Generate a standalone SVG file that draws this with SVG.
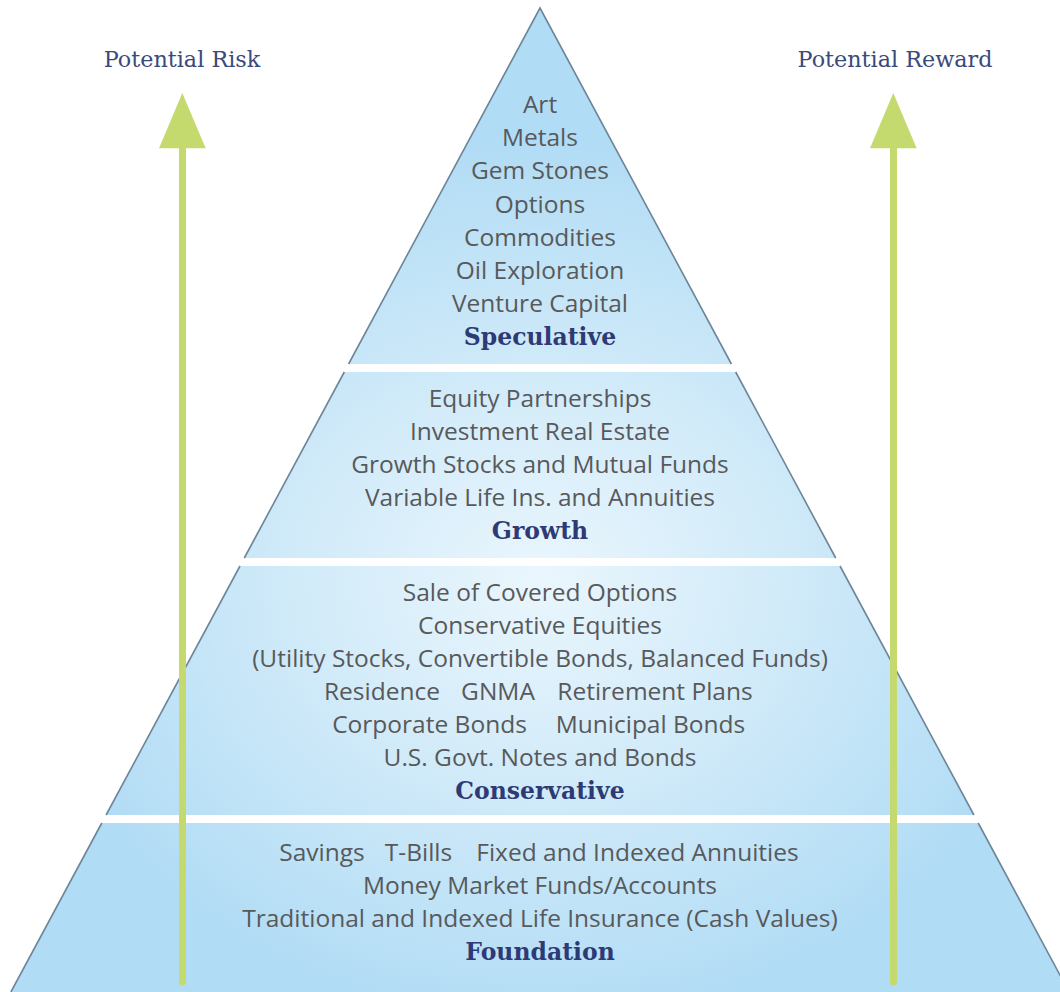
<svg xmlns="http://www.w3.org/2000/svg" width="1060" height="992" viewBox="0 0 1060 992">
<style>
.item{font-family:"Open Sans","Noto Sans",sans-serif;font-size:24.5px;fill:#58595b;text-anchor:middle}
.head{font-family:"DejaVu Serif","Liberation Serif",serif;font-size:23.5px;font-weight:bold;fill:#2e3a75;text-anchor:middle}
.label{font-family:"DejaVu Serif","Liberation Serif",serif;font-size:22.3px;fill:#3a4a7c;text-anchor:middle}
.band{stroke:none}
.edge{stroke:#6d8598;stroke-width:1.6;fill:none}
.shaft{stroke:#c5da6e;stroke-width:7;stroke-linecap:round}
.tip{fill:#c5da6e}
</style>
<defs>
<radialGradient id="g" gradientUnits="userSpaceOnUse" cx="540" cy="580" r="520" gradientTransform="translate(540 580) scale(1 0.85) translate(-540 -580)">
<stop offset="0" stop-color="#eaf6fd"/>
<stop offset="0.45" stop-color="#d2ebf9"/>
<stop offset="1" stop-color="#b1dcf5"/>
</radialGradient>
</defs>
<rect width="1060" height="992" fill="#ffffff"/>
<g id="speculative">
<polygon class="band" points="540,8 731.4,364 348.6,364" fill="url(#g)"/>
<polyline class="edge" points="348.6,364 540,8 731.4,364"/>
<text class="item" x="540" y="113">Art</text>
<text class="item" x="540" y="146">Metals</text>
<text class="item" x="540" y="179">Gem Stones</text>
<text class="item" x="540" y="213">Options</text>
<text class="item" x="540" y="246">Commodities</text>
<text class="item" x="540" y="279">Oil Exploration</text>
<text class="item" x="540" y="312">Venture Capital</text>
<text class="head" x="540" y="345">Speculative</text>
</g>
<g id="growth">
<polygon class="band" points="344.3,372 735.7,372 835.7,558 244.3,558" fill="url(#g)"/>
<line class="edge" x1="344.3" y1="372" x2="244.3" y2="558"/>
<line class="edge" x1="735.7" y1="372" x2="835.7" y2="558"/>
<text class="item" x="540" y="407">Equity Partnerships</text>
<text class="item" x="540" y="440">Investment Real Estate</text>
<text class="item" x="540" y="473">Growth Stocks and Mutual Funds</text>
<text class="item" x="540" y="506">Variable Life Ins. and Annuities</text>
<text class="head" x="540" y="539">Growth</text>
</g>
<g id="conservative">
<polygon class="band" points="240,566 840,566 973.9,815 106.1,815" fill="url(#g)"/>
<line class="edge" x1="240" y1="566" x2="106.1" y2="815"/>
<line class="edge" x1="840" y1="566" x2="973.9" y2="815"/>
<text class="item" x="540" y="601">Sale of Covered Options</text>
<text class="item" x="540" y="634">Conservative Equities</text>
<text class="item" x="540" y="667">(Utility Stocks, Convertible Bonds, Balanced Funds)</text>
<text class="item" y="700"><tspan x="382">Residence</tspan><tspan x="498">GNMA</tspan><tspan x="655">Retirement Plans</tspan></text>
<text class="item" y="733"><tspan x="429.5">Corporate Bonds</tspan><tspan x="650.5">Municipal Bonds</tspan></text>
<text class="item" x="540" y="766">U.S. Govt. Notes and Bonds</text>
<text class="head" x="540" y="799">Conservative</text>
</g>
<g id="foundation">
<polygon class="band" points="101.8,823 978.2,823 1069.1,992 10.9,992" fill="url(#g)"/>
<line class="edge" x1="101.8" y1="823" x2="10.9" y2="992"/>
<line class="edge" x1="978.2" y1="823" x2="1069.1" y2="992"/>
<text class="item" y="861"><tspan x="322">Savings</tspan><tspan x="418.5">T-Bills</tspan><tspan x="637.5">Fixed and Indexed Annuities</tspan></text>
<text class="item" x="540" y="894">Money Market Funds/Accounts</text>
<text class="item" x="540" y="927">Traditional and Indexed Life Insurance (Cash Values)</text>
<text class="head" x="540" y="960">Foundation</text>
</g>
<g id="connectors">
<g id="risk-arrow">
<line class="shaft" x1="182.5" y1="140" x2="182.5" y2="982"/>
<polygon class="tip" points="182.3,93 205.7,148.3 159,148.3"/>
</g>
<g id="reward-arrow">
<line class="shaft" x1="893.5" y1="140" x2="893.5" y2="982"/>
<polygon class="tip" points="893.3,93 916.7,148.3 870,148.3"/>
</g>
</g>
<g id="labels">
<text class="label" x="182" y="67">Potential Risk</text>
<text class="label" x="895" y="67">Potential Reward</text>
</g>
</svg>
